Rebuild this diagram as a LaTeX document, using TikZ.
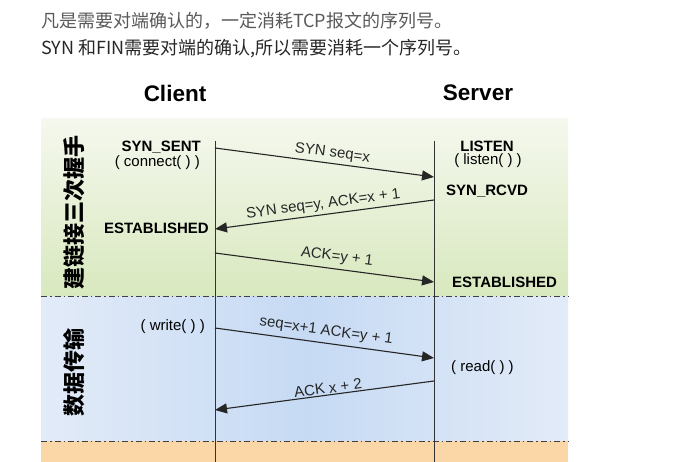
\documentclass[tikz,border=0pt]{standalone}
\usepackage{fontspec}
\setmainfont{Liberation Sans}
\newfontfamily\cjk{Noto Sans CJK SC}
\usetikzlibrary{arrows.meta, positioning}

\definecolor{greentop}{HTML}{F5F8EE}
\definecolor{greenbot}{HTML}{D8E8BE}
\definecolor{blueside}{HTML}{E2EBF8}
\definecolor{bluemid}{HTML}{C6DAF4}
\definecolor{orangeband}{HTML}{FBD7A8}

\begin{document}
\begin{tikzpicture}[x=1pt, y=-1pt,
    msg/.style={-{Triangle[length=12pt,width=10pt]}, line width=1.1pt, black!85},
    state/.style={font=\bfseries\fontsize{15}{17}\selectfont, inner sep=0pt},
    call/.style={font=\fontsize{15}{17}\selectfont, inner sep=0pt},
    lbl/.style={font=\fontsize{15}{17}\selectfont, sloped, above, inner sep=2.5pt},
    phase/.style={dash pattern=on 6pt off 3pt on 1.5pt off 3pt, line width=1pt, black!75}]
    \useasboundingbox (0,0) rectangle (680,462);

    % Note text
    \node[anchor=west, inner sep=0pt, text=black!65, font=\cjk\fontsize{18}{20}\selectfont] (note1) at (41,21) {凡是需要对端确认的，一定消耗TCP报文的序列号。};
    \node[anchor=west, inner sep=0pt, text=black!85, font=\cjk\fontsize{18}{20}\selectfont] (note2) at (41,49) {SYN 和FIN需要对端的确认,所以需要消耗一个序列号。};

    % Headings
    \node[font=\bfseries\fontsize{22.5}{24}\selectfont] (client) at (175,93) {Client};
    \node[font=\bfseries\fontsize{22.5}{24}\selectfont] (server) at (478,93) {Server};

    % Phases
    \shade[top color=greentop, bottom color=greenbot] (41,119) rectangle (568,297);
    \shade[left color=blueside, right color=blueside, middle color=bluemid] (41,297) rectangle (568,441);
    \fill[orangeband] (41,441) rectangle (568,462);
    \draw[phase] (41,297) -- (568,297);
    \draw[phase] (41,441) -- (568,441);

    \node[rotate=90, font=\cjk\bfseries\fontsize{22}{22}\selectfont] (shake) at (74,213) {建链接三次握手};
    \node[rotate=90, font=\cjk\bfseries\fontsize{22}{22}\selectfont] (data) at (74,372) {数据传输};

    % Lifelines
    \coordinate (ctop) at (215,141);
    \coordinate (cbot) at (215,462);
    \coordinate (stop) at (434,141);
    \coordinate (sbot) at (434,462);
    \draw[line width=1pt, black!80] (ctop) -- (cbot);
    \draw[line width=1pt, black!80] (stop) -- (sbot);

    % Client states
    \node[state, anchor=east] (synsent) at (201,147) {SYN\_SENT};
    \node[call, anchor=east] (connect) at (200,163) {( connect( ) )};
    \node[state, anchor=east] (cest) at (209,228) {ESTABLISHED};
    \node[call, anchor=east] (write) at (205,327) {( write( ) )};

    % Server states
    \node[state] (listen) at (487,146) {LISTEN};
    \node[call] (listencall) at (488,161) {( listen( ) )};
    \node[state] (synrcvd) at (487,191) {SYN\_RCVD};
    \node[state, anchor=west] (sest) at (452,282) {ESTABLISHED};
    \node[call, anchor=west] (read) at (451,368) {( read( ) )};

    % Messages
    \coordinate (c1) at (215,148);
    \coordinate (s1) at (434,177);
    \coordinate (s2) at (434,200);
    \coordinate (c2) at (215,229);
    \coordinate (c3) at (215,253);
    \coordinate (s3) at (434,282);
    \coordinate (c4) at (215,328);
    \coordinate (s4) at (434,358);
    \coordinate (s5) at (434,381);
    \coordinate (c5) at (215,410);

    \draw[msg] (c1) -- (s1) node[lbl, pos=0.53] {SYN seq=x};
    \draw[msg] (s2) -- (c2) node[lbl, pos=0.5] {SYN seq=y, ACK=x + 1};
    \draw[msg] (c3) -- (s3) node[lbl, pos=0.55, yshift=2pt] {ACK=y + 1};
    \draw[msg] (c4) -- (s4) node[lbl, pos=0.5, yshift=2pt] {seq=x+1 ACK=y + 1};
    \draw[msg] (s5) -- (c5) node[lbl, pos=0.48, inner sep=1pt] {ACK x + 2};
\end{tikzpicture}
\end{document}
